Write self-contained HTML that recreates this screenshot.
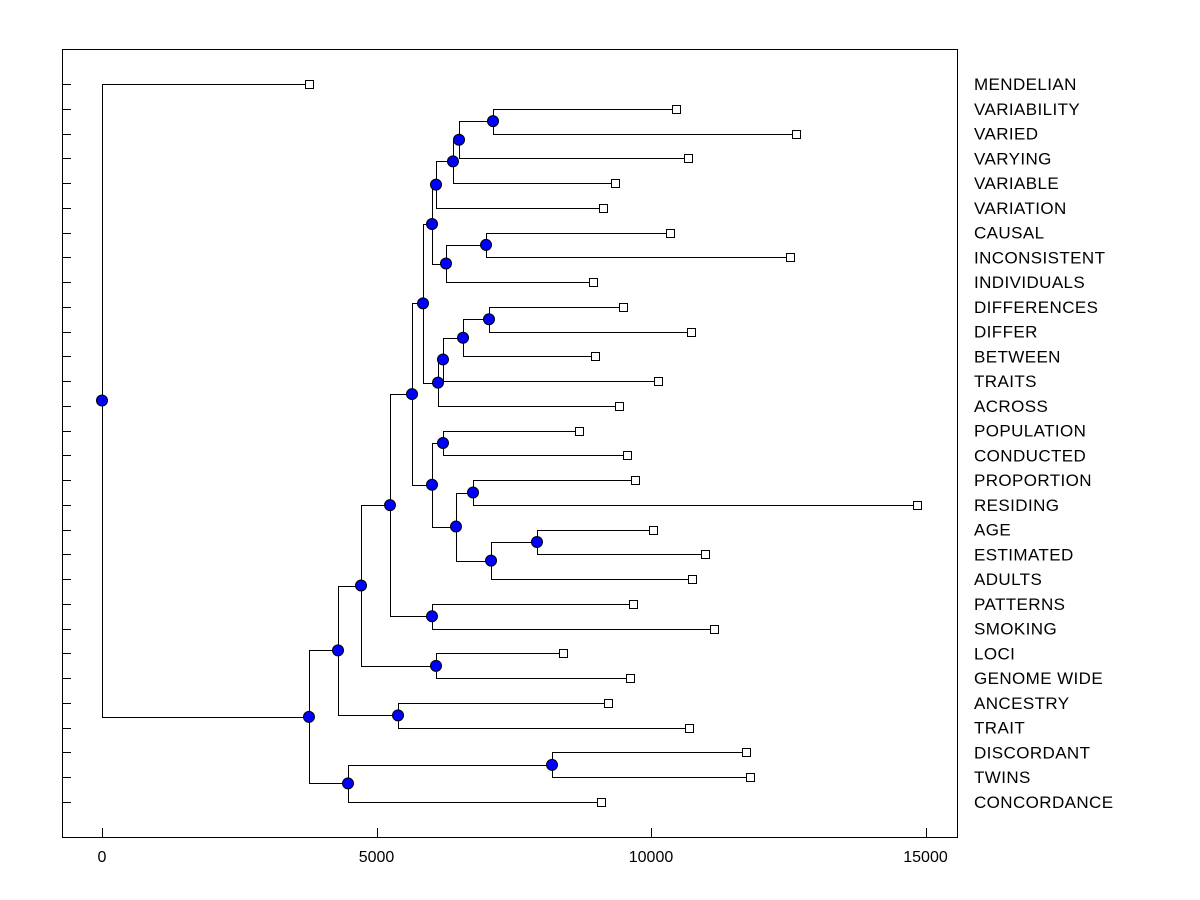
<!DOCTYPE html>
<html><head><meta charset="utf-8"><style>
html,body{margin:0;padding:0;background:#fff;}
svg{display:block;}
text{font-family:"Liberation Sans",Arial,sans-serif;}
</style></head><body>
<svg id="chart" width="1200" height="900" viewBox="0 0 1200 900">
<rect x="62.5" y="49.5" width="895" height="788" fill="#fff" stroke="#000" stroke-width="1"/>
<g id="ticks"></g><g id="links"></g><g id="nodes"></g><g id="labels"></g>
</svg>
<script>
const leafLabels = ["MENDELIAN","VARIABILITY","VARIED","VARYING","VARIABLE","VARIATION","CAUSAL","INCONSISTENT","INDIVIDUALS","DIFFERENCES","DIFFER","BETWEEN","TRAITS","ACROSS","POPULATION","CONDUCTED","PROPORTION","RESIDING","AGE","ESTIMATED","ADULTS","PATTERNS","SMOKING","LOCI","GENOME WIDE","ANCESTRY","TRAIT","DISCORDANT","TWINS","CONCORDANCE"];
const leafValues = [3770,10455,12640,10674,9344,9126,10346,12532,8944,9490,10729,8980,10128,9417,8689,9563,9709,14845,10036,10984,10747,9672,11148,8397,9617,9217,10692,11730,11803,9089];
const mergeLeft = [1,30,31,32,6,34,33,9,37,38,39,36,14,16,18,44,43,42,41,21,48,23,50,25,52,27,55,54,0];
const mergeRight = [2,3,4,5,7,8,35,10,11,12,13,40,15,17,19,20,45,46,47,22,49,24,51,26,53,28,29,56,57];
const mergeHeights = [7122,6503,6393,6084,6995,6266,6011,7049,6576,6211,6120,5847,6211,6758,7923,7086,6448,6011,5647,6011,5246,6084,4718,5392,4299,8197,4481,3770,0];
const xTicks = [0,5000,10000,15000];

const NS="http://www.w3.org/2000/svg";
const xs = v => 102 + v*(274.5/5000);
const rowY = i => 84 + i*(802-84)/29;
function mk(tag, attrs, parent){const e=document.createElementNS(NS,tag);for(const k in attrs)e.setAttribute(k,attrs[k]);parent.appendChild(e);return e;}
const gT=document.getElementById('ticks'),gL=document.getElementById('links'),gN=document.getElementById('nodes'),gLb=document.getElementById('labels');

const px=[],py=[];
leafValues.forEach((v,i)=>{px[i]=xs(v);py[i]=rowY(i);});
mergeHeights.forEach((h,k)=>{const id=leafValues.length+k;const a=mergeLeft[k],b=mergeRight[k];px[id]=xs(h);py[id]=(py[a]+py[b])/2;});

leafLabels.forEach((lab,i)=>{
  const y=Math.round(rowY(i))+0.5;
  const t=mk('line',{x1:62,x2:71,y1:y,y2:y,stroke:'#000','stroke-width':1},gT);
  
  
  const tx=mk('text',{x:974,y:rowY(i)+6,'font-size':17,'letter-spacing':0.4,fill:'#000'},gLb);
  tx.textContent=lab;
  
  
});
xTicks.forEach(v=>{
  const x=Math.round(xs(v))+0.5;
  const t=mk('line',{x1:x,x2:x,y1:828,y2:838,stroke:'#000','stroke-width':1},gT);
  
  
  const tx=mk('text',{x:xs(v),y:862,'font-size':16,'text-anchor':'middle',fill:'#000'},gLb);
  tx.textContent=String(v);
  
  
});
mergeHeights.forEach((h,k)=>{
  const id=leafValues.length+k;const a=mergeLeft[k],b=mergeRight[k];
  const x=Math.round(px[id])+0.5;
  const d=`M${Math.round(px[a])+0.5},${Math.round(py[a])+0.5}H${x}V${Math.round(py[b])+0.5}H${Math.round(px[b])+0.5}`;
  const p=mk('path',{d:d,fill:'none',stroke:'#000','stroke-width':1},gL);
  
  
});
mergeHeights.forEach((h,k)=>{
  const id=leafValues.length+k;
  const c=mk('circle',{cx:px[id],cy:py[id],r:5.5,fill:'#0000ff',stroke:'#000','stroke-width':1},gN);
  
  
});
leafValues.forEach((v,i)=>{
  const r=mk('rect',{x:Math.round(px[i])-3.5,y:Math.round(py[i])-3.5,width:8,height:8,fill:'#fff',stroke:'#000','stroke-width':1},gN);
  
  
});
</script>
</body></html>
